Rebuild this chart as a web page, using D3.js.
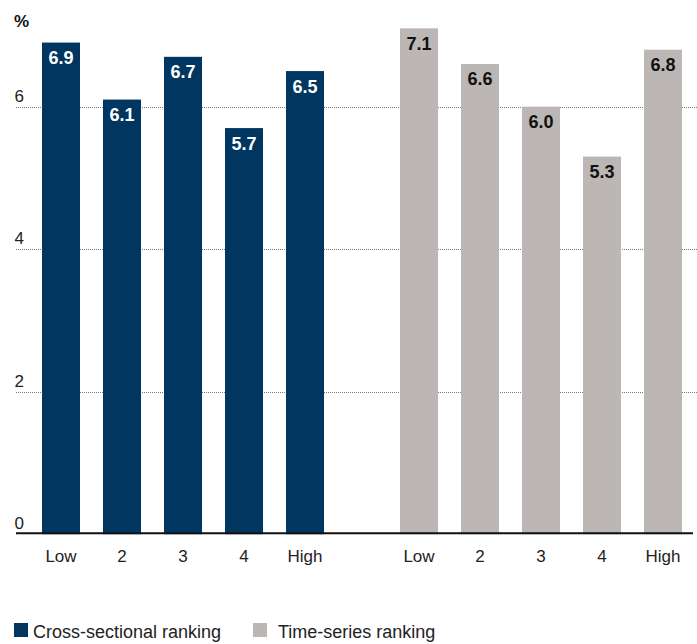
<!DOCTYPE html>
<html>
<head>
<meta charset="utf-8">
<script src="https://cdn.jsdelivr.net/npm/d3@7"></script>
<style>
  html, body { margin: 0; padding: 0; background: #fff; }
  svg { display: block; font-family: "Liberation Sans", Arial, sans-serif; }
</style>
</head>
<body>
<svg id="chart" width="697" height="644"></svg>
<script>
// Quintile labels along the x axis
const categories = ["Low", "2", "3", "4", "High"];
// Series names, values (%) and fills
const seriesNames = ["Cross-sectional ranking", "Time-series ranking"];
const crossSectional = [6.9, 6.1, 6.7, 5.7, 6.5];
const timeSeries = [7.1, 6.6, 6.0, 5.3, 6.8];
const seriesColors = ["#003660", "#bcb7b4"];
const labelColors = ["#ffffff", "#111111"];
// Y axis ticks
const yTicks = [0, 2, 4, 6];

const seriesValues = [crossSectional, timeSeries];

const svg = d3.select("#chart");

const y = d3.scaleLinear().domain([0, 2]).range([534.2, 391.7]);

// One band per series group, bars inside each group
const xGroup = d3.scaleBand().domain(seriesNames).range([30.5, 693.5]).paddingInner(0.148).paddingOuter(0);
const xInner = d3.scaleBand().domain(categories).range([0, xGroup.bandwidth()]).paddingInner(0.377).paddingOuter(0.1885);

// Dotted gridlines
svg.append("g").selectAll("line")
  .data(yTicks.filter(d => d > 0))
  .join("line")
  .attr("x1", 16).attr("x2", 697)
  .attr("y1", d => Math.round(y(d)) + 0.5).attr("y2", d => Math.round(y(d)) + 0.5)
  .attr("stroke", "#7a7a7a")
  .attr("stroke-width", 1)
  .attr("stroke-dasharray", "1,1");

// Tick labels sit just above their gridline
svg.append("g").selectAll("text")
  .data(yTicks)
  .join("text")
  .attr("x", 14.5)
  .attr("y", d => y(d) - 5)
  .attr("font-size", 17)
  .attr("fill", "#222")
  .text(d => d);

svg.append("text")
  .attr("x", 14).attr("y", 27)
  .attr("font-size", 17).attr("font-weight", "bold")
  .attr("fill", "#111")
  .text("%");

// Bars
const groups = svg.append("g").selectAll("g")
  .data(seriesNames)
  .join("g")
  .attr("transform", d => `translate(${xGroup(d)},0)`);

groups.each(function(name, si) {
  const g = d3.select(this);
  const vals = seriesValues[si].map((v, i) => ({ cat: categories[i], v }));
  g.selectAll("rect")
    .data(vals)
    .join("rect")
    .attr("x", d => xInner(d.cat))
    .attr("width", xInner.bandwidth())
    .attr("y", d => y(d.v))
    .attr("height", d => y(0) - y(d.v))
    .attr("fill", seriesColors[si]);

  g.selectAll("text.val")
    .data(vals)
    .join("text")
    .attr("class", "val")
    .attr("x", d => xInner(d.cat) + xInner.bandwidth() / 2)
    .attr("y", d => y(d.v) + 21.5)
    .attr("text-anchor", "middle")
    .attr("font-size", 18)
    .attr("font-weight", "bold")
    .attr("fill", labelColors[si])
    .text(d => d3.format(".1f")(d.v));

  g.selectAll("text.cat")
    .data(categories)
    .join("text")
    .attr("class", "cat")
    .attr("x", d => xInner(d) + xInner.bandwidth() / 2)
    .attr("y", 562)
    .attr("text-anchor", "middle")
    .attr("font-size", 17)
    .attr("fill", "#222")
    .text(d => d);
});

// Baseline
svg.append("line")
  .attr("x1", 16).attr("x2", 693)
  .attr("y1", 533.3).attr("y2", 533.3)
  .attr("stroke", "#111")
  .attr("stroke-width", 2);

// Legend
const legendX = [14, 253];
const legend = svg.append("g").selectAll("g")
  .data(seriesNames)
  .join("g")
  .attr("transform", (d, i) => `translate(${legendX[i]},623)`);
legend.append("rect")
  .attr("width", 14).attr("height", 14)
  .attr("fill", (d, i) => seriesColors[i]);
legend.append("text")
  .attr("x", (d, i) => i === 0 ? 19 : 25)
  .attr("y", 14.5)
  .attr("font-size", 18)
  .attr("fill", "#222")
  .text(d => d);
</script>
</body>
</html>
